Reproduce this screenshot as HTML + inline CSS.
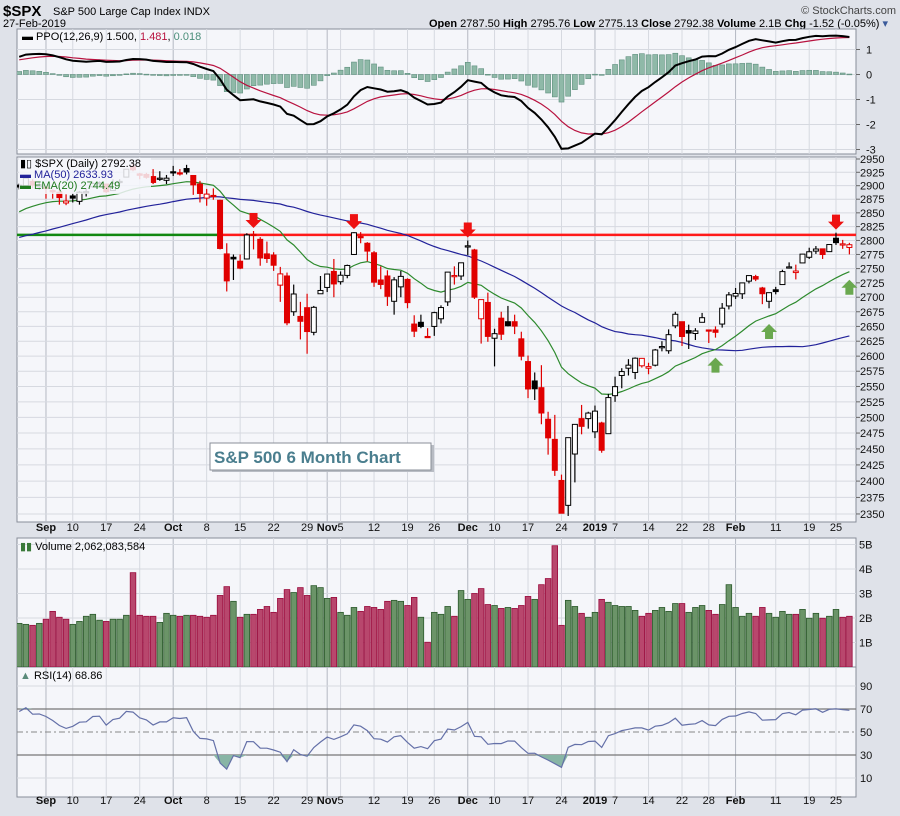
<!DOCTYPE html>
<html><head><meta charset="utf-8">
<style>
html,body{margin:0;padding:0;background:#dfe2e9;}
body{width:900px;height:811px;overflow:hidden;font-family:"Liberation Sans",sans-serif;}
svg text{font-family:"Liberation Sans",sans-serif;}
</style></head>
<body>
<svg id="chart" width="900" height="811" viewBox="0 0 900 811" xmlns="http://www.w3.org/2000/svg">
<rect x="0" y="0" width="900" height="811" fill="#dfe2e9"/>
<g>
<text x="3" y="16" font-size="15" font-weight="bold" fill="#000">$SPX</text>
<text x="53" y="15" font-size="11" fill="#000">S&amp;P 500 Large Cap Index  INDX</text>
<text x="896" y="14" font-size="11" text-anchor="end" fill="#444">© StockCharts.com</text>
<text x="3" y="27" font-size="11" fill="#000">27-Feb-2019</text>
<text x="888" y="27" font-size="11" text-anchor="end" fill="#000"><tspan font-weight="bold">Open</tspan> 2787.50 <tspan font-weight="bold">High</tspan> 2795.76 <tspan font-weight="bold">Low</tspan> 2775.13 <tspan font-weight="bold">Close</tspan> 2792.38 <tspan font-weight="bold">Volume</tspan> 2.1B <tspan font-weight="bold">Chg</tspan> -1.52 (-0.05%) <tspan fill="#3a5a9a">▾</tspan></text>
</g>
<g id="layer"></g>
</svg>
<script>
// ---------- data ----------
const preCloses=[2773,2762,2767,2749,2755,2718,2723,2699,2716,2718,2727,2713,2736,2760,2784,2793,2774,2798,2801,2798,2809,2816,2804,2802,2807,2820,2846,2837,2819,2803,2816,2813,2828,2840,2850,2858,2857,2853,2834,2821,2839,2819,2840,2850,2857,2863,2861,2856,2875,2896];
const dates=["Aug28","Aug29","Aug30","Aug31","Sep4","Sep5","Sep6","Sep7","Sep10","Sep11","Sep12","Sep13","Sep14","Sep17","Sep18","Sep19","Sep20","Sep21","Sep24","Sep25","Sep26","Sep27","Sep28","Oct1","Oct2","Oct3","Oct4","Oct5","Oct8","Oct9","Oct10","Oct11","Oct12","Oct15","Oct16","Oct17","Oct18","Oct19","Oct22","Oct23","Oct24","Oct25","Oct26","Oct29","Oct30","Oct31","Nov1","Nov2","Nov5","Nov6","Nov7","Nov8","Nov9","Nov12","Nov13","Nov14","Nov15","Nov16","Nov19","Nov20","Nov21","Nov23","Nov26","Nov27","Nov28","Nov29","Nov30","Dec3","Dec4","Dec6","Dec7","Dec10","Dec11","Dec12","Dec13","Dec14","Dec17","Dec18","Dec19","Dec20","Dec21","Dec24","Dec26","Dec27","Dec28","Dec31","Jan2","Jan3","Jan4","Jan7","Jan8","Jan9","Jan10","Jan11","Jan14","Jan15","Jan16","Jan17","Jan18","Jan22","Jan23","Jan24","Jan25","Jan28","Jan29","Jan30","Jan31","Feb1","Feb4","Feb5","Feb6","Feb7","Feb8","Feb11","Feb12","Feb13","Feb14","Feb15","Feb19","Feb20","Feb21","Feb22","Feb25","Feb26","Feb27"];
const opens=[2901,2900,2908,2898,2897,2891,2888,2868,2881,2871,2888,2898,2906,2903,2891,2906,2916,2936,2922,2921,2917,2912,2910,2926,2924,2932,2919,2903,2877,2882,2873,2776,2770,2763,2767,2811,2802,2776,2774,2721,2737,2675,2667,2682,2640,2706,2717,2745,2727,2738,2775,2807,2795,2778,2730,2737,2693,2718,2731,2654,2657,2633,2650,2663,2692,2736,2737,2790,2783,2663,2691,2630,2664,2658,2658,2629,2591,2559,2548,2497,2465,2401,2363,2442,2498,2498,2477,2491,2474,2535,2568,2580,2573,2584,2580,2585,2614,2609,2651,2658,2643,2638,2657,2644,2644,2654,2685,2702,2706,2728,2736,2716,2693,2713,2722,2751,2743,2760,2770,2781,2785,2780,2804,2792,2787.5];
const highs=[2904,2916,2912,2906,2900,2893,2893,2884,2886,2890,2895,2906,2908,2904,2912,2912,2931,2941,2924,2924,2931,2927,2920,2937,2931,2939,2919,2909,2894,2895,2874,2795,2775,2775,2813,2817,2806,2798,2779,2753,2743,2722,2692,2706,2685,2737,2741,2767,2745,2757,2815,2815,2797,2781,2754,2747,2735,2746,2733,2669,2670,2647,2675,2686,2744,2754,2760,2800,2785,2696,2708,2646,2675,2685,2670,2641,2601,2573,2585,2509,2504,2410,2468,2489,2520,2509,2519,2493,2538,2566,2580,2595,2598,2597,2589,2612,2625,2645,2675,2658,2653,2647,2673,2644,2650,2690,2709,2716,2725,2738,2739,2718,2708,2718,2748,2761,2757,2776,2787,2790,2785,2793,2814,2801,2795.76];
const lows=[2893,2898,2895,2892,2876,2876,2865,2864,2869,2865,2880,2896,2899,2886,2891,2903,2916,2927,2912,2913,2903,2909,2903,2918,2919,2921,2883,2869,2863,2874,2784,2710,2730,2749,2766,2784,2755,2760,2746,2692,2652,2668,2628,2604,2635,2706,2709,2700,2722,2733,2774,2795,2763,2718,2714,2685,2670,2700,2681,2632,2647,2631,2634,2655,2685,2722,2730,2774,2697,2621,2624,2583,2627,2650,2637,2593,2531,2528,2489,2441,2408,2351,2347,2398,2473,2482,2467,2444,2474,2525,2547,2568,2562,2581,2570,2583,2608,2604,2647,2617,2612,2627,2657,2622,2631,2648,2679,2697,2697,2724,2728,2688,2681,2705,2722,2750,2731,2760,2767,2776,2767,2781,2792,2785,2775.13];
const closes=[2897.5,2914,2901,2901.5,2896.7,2888.6,2878,2871.7,2877,2887.9,2888.9,2904,2905,2888.8,2904.3,2908,2930.8,2929.7,2919.4,2915.6,2906,2914,2914,2924.6,2923.4,2925.5,2901.6,2885.6,2884.4,2880.3,2785.7,2728.4,2767.1,2750.8,2809.9,2809.2,2768.8,2767.8,2755.9,2740.7,2656.1,2705.6,2658.7,2641.3,2682.6,2711.7,2740.4,2723.1,2738.3,2755.5,2813.9,2806.8,2781,2726.2,2722.2,2701.6,2730.2,2736.3,2690.7,2641.9,2649.9,2632.6,2673.5,2682.2,2743.8,2737.8,2760.2,2790.4,2700.1,2695.9,2633.1,2637.7,2636.8,2651.1,2650.5,2599.9,2545.9,2546.2,2507,2467.4,2416.6,2351.1,2467.7,2488.8,2485.7,2506.9,2510,2447.9,2531.9,2549.7,2574.4,2585,2596.6,2596.3,2582.6,2610.3,2616.1,2636,2670.7,2632.9,2638.7,2642.3,2664.8,2643.9,2640,2681.1,2704.1,2706.5,2724.9,2737.7,2731.6,2706.1,2707.9,2709.8,2744.7,2753,2745.7,2775.6,2779.8,2784.7,2774.9,2792.7,2796.1,2793.9,2792.38];
const volumes=[1.78,1.74,1.70,1.78,1.95,2.27,2.03,1.95,1.74,1.86,2.07,2.15,1.91,1.86,1.95,1.95,2.11,3.85,2.11,2.07,2.07,1.82,2.19,2.11,2.07,2.11,2.11,2.07,2.03,2.11,2.92,3.28,2.68,2.03,2.15,2.15,2.35,2.47,2.23,2.80,3.16,3.04,3.24,2.92,3.32,3.24,2.80,2.84,2.23,2.11,2.43,2.27,2.47,2.43,2.35,2.68,2.72,2.68,2.51,2.84,2.03,1.01,2.23,2.15,2.47,2.07,3.12,2.76,3.00,3.20,2.55,2.51,2.39,2.43,2.39,2.51,2.88,2.76,3.36,3.61,4.95,1.70,2.72,2.47,2.19,2.03,2.23,2.76,2.64,2.51,2.47,2.47,2.31,2.07,2.19,2.31,2.43,2.27,2.59,2.59,2.23,2.43,2.51,2.31,2.15,2.55,3.36,2.43,2.07,2.19,2.07,2.43,2.19,2.03,2.27,2.15,2.15,2.35,1.99,2.19,1.99,2.07,2.35,2.03,2.07];
const tickDates=["Sep4","Sep10","Sep17","Sep24","Oct1","Oct8","Oct15","Oct22","Oct29","Nov1","Nov5","Nov12","Nov19","Nov26","Dec3","Dec10","Dec17","Dec24","Jan2","Jan7","Jan14","Jan22","Jan28","Feb1","Feb11","Feb19","Feb25"];
const tickLabels=["Sep","10","17","24","Oct","8","15","22","29","Nov","5","12","19","26","Dec","10","17","24","2019","7","14","22","28","Feb","11","19","25"];
const tickMajor=[1,0,0,0,1,0,0,0,0,1,0,0,0,0,1,0,0,0,1,0,0,0,0,1,0,0,0];
const priceTicks=[2950,2925,2900,2875,2850,2825,2800,2775,2750,2725,2700,2675,2650,2625,2600,2575,2550,2525,2500,2475,2450,2425,2400,2375,2350];
const resistance=2810;
const downArrowDates=["Oct17","Nov7","Dec3","Feb25"];
const upArrowDates=["Jan29","Feb8","Feb27"];
const ppoTicks=[1,0,-1,-2,-3];
const volTicks=[5,4,3,2,1];
const rsiTicks=[90,70,50,30,10];

// ---------- geometry ----------
const L=17,R=856;
const X0=19.2,DX=6.695;
const xAt=i=>X0+i*DX;
const idxOf=d=>dates.indexOf(d);
const yPrice=p=>159+Math.log(2950/p)*1561;
const yPPO=v=>74.5-v*25;
const yVol=v=>667-v*24.5;
const yRSI=v=>789.5-v*1.15;
const NS="http://www.w3.org/2000/svg";
const layer=document.getElementById('layer');
function mk(tag,attrs,parent){const e=document.createElementNS(NS,tag);for(const k in attrs)e.setAttribute(k,attrs[k]);(parent||layer).appendChild(e);return e;}

// ---------- indicators ----------
const all=preCloses.concat(closes);const P=preCloses.length;
function ema(arr,n){const k=2/(n+1);const out=[];let e=arr[0];for(let i=0;i<arr.length;i++){e=i===0?arr[0]:arr[i]*k+e*(1-k);out.push(e);}return out;}
const ema12=ema(all,12),ema26=ema(all,26),ema20=ema(all,20);
const ppoAll=all.map((c,i)=>(ema12[i]-ema26[i])/ema26[i]*100);
const sigAll=ema(ppoAll,9);
const ma50=closes.map((c,i)=>{let s=0;for(let j=P+i-49;j<=P+i;j++)s+=all[j];return s/50;});
// RSI wilder
const rsiAll=[];{let ag=0,al=0;for(let i=1;i<all.length;i++){const d=all[i]-all[i-1];const g=Math.max(d,0),l=Math.max(-d,0);if(i<=14){ag+=g/14;al+=l/14;}else{ag=(ag*13+g)/14;al=(al*13+l)/14;}rsiAll[i]=al===0?100:100-100/(1+ag/al);}}

// ---------- panels ----------
const panels=[["ppo-panel",29,154],["price-panel",157,522],["volume-panel",538,667],["rsi-panel",667,797]];
panels.forEach(p=>{const r=mk('rect',{x:L,y:p[1],width:R-L,height:p[2]-p[1],fill:'#f5f6fa',stroke:'#888d99','stroke-width':1});

});
function clip(id,y1,y2){const c=mk('clipPath',{id:id});mk('rect',{x:L,y:y1,width:R-L,height:y2-y1},c);}
clip('cp-ppo',29,154);clip('cp-price',157,522);clip('cp-vol',538,667);clip('cp-rsi',667,797);

// vertical grid
panels.forEach(p=>{tickDates.forEach((d,k)=>{const x=xAt(idxOf(d));const ln=mk('line',{x1:x,x2:x,y1:p[1],y2:p[2],stroke:tickMajor[k]?'#b4b8c2':'#d6d9e0','stroke-width':1});

});});

// date axes
[531,804].forEach((yy,ai)=>{tickDates.forEach((d,k)=>{const t=mk('text',{x:xAt(idxOf(d)),y:yy,'font-size':11,'text-anchor':'middle','font-weight':tickMajor[k]?'bold':'normal',fill:'#111'});t.textContent=tickLabels[k];

});});

// ---------- PPO ----------
ppoTicks.forEach(v=>{const y=yPPO(v);const g=mk('line',{x1:L,x2:R,y1:y,y2:y,stroke:'#d6d9e0'});


const t=mk('text',{x:866,y:y+4,'font-size':11,fill:'#111'});t.textContent=v;


mk('line',{x1:R,x2:R+4,y1:y,y2:y,stroke:'#666'});});
const gP=mk('g',{'clip-path':'url(#cp-ppo)'});
closes.forEach((c,i)=>{const h=ppoAll[P+i]-sigAll[P+i];const y0=yPPO(0),y1=yPPO(h);const b=mk('rect',{x:xAt(i)-2.5,y:Math.min(y0,y1),width:5,height:Math.max(0.8,Math.abs(y1-y0)),fill:'#8fb9a8',stroke:'#5f8f7e','stroke-width':0.6},gP);

});
function path(vals,yf,attrs,g,name){let d='';vals.forEach((v,i)=>{d+=(i?'L':'M')+xAt(i).toFixed(1)+','+yf(v).toFixed(1);});const e=mk('path',Object.assign({d:d,fill:'none'},attrs),g);

return e;}
path(sigAll.slice(P),yPPO,{stroke:'#b8123f','stroke-width':1.2},gP,'ppo-signal-line');
path(ppoAll.slice(P),yPPO,{stroke:'#000','stroke-width':2},gP,'ppo-line');
{const t=mk('text',{x:22,y:40,'font-size':11,fill:'#000'});t.innerHTML='<tspan font-weight="bold">▬</tspan> PPO(12,26,9) 1.500, <tspan fill="#b8123f">1.481</tspan>, <tspan fill="#4a8e7a">0.018</tspan>';

}

// ---------- Price ----------
priceTicks.forEach(v=>{const y=yPrice(v);const g=mk('line',{x1:L,x2:R,y1:y,y2:y,stroke:'#d6d9e0'});


mk('line',{x1:R,x2:R+4,y1:y,y2:y,stroke:'#666'});
const t=mk('text',{x:860,y:y+4,'font-size':11,fill:'#111'});t.textContent=v;

});
const gC=mk('g',{'clip-path':'url(#cp-price)'});
{const yr=yPrice(resistance);const xi=xAt(idxOf("Oct10"));
const g1=mk('line',{x1:L,x2:xi,y1:yr,y2:yr,stroke:'#118811','stroke-width':2.5},gC);


const r1=mk('line',{x1:xi,x2:R,y1:yr,y2:yr,stroke:'#ff1a1a','stroke-width':2.5},gC);

}
path(ma50,yPrice,{stroke:'#22229a','stroke-width':1.2},gC,'ma50-line');
path(ema20.slice(P),yPrice,{stroke:'#2d8a2d','stroke-width':1.2},gC,'ema20-line');
closes.forEach((c,i)=>{const o=opens[i],hi=highs[i],lo=lows[i];const prev=i?closes[i-1]:preCloses[P-1];const col=c<prev?'#e00000':'#000';const x=xAt(i);
const w=mk('line',{x1:x,x2:x,y1:yPrice(hi),y2:yPrice(lo),stroke:col,'stroke-width':1.2},gC);


const yt=yPrice(Math.max(o,c)),yb=yPrice(Math.min(o,c));
const b=mk('rect',{x:x-2.5,y:yt,width:5,height:Math.max(1.2,yb-yt),fill:c>=o?'#fff':col,stroke:col,'stroke-width':1},gC);

});
downArrowDates.forEach(d=>{const i=idxOf(d);const x=xAt(i);const y=yPrice(highs[i])-3;const a=mk('path',{d:`M${x-4},${y-15}h8v7h4l-8,8l-8,-8h4z`,fill:'#ee1111'});

});
upArrowDates.forEach(d=>{const i=idxOf(d);const x=xAt(i);const y=yPrice(ema20[P+i])+8;const a=mk('path',{d:`M${x},${y}l8,8h-4v7h-8v-7h-4z`,fill:'#6aa84f'});

});
{const bg=mk('rect',{x:19,y:158,width:132,height:36,fill:'#f5f6fa','fill-opacity':0.85});


const t1=mk('text',{x:20,y:167,'font-size':11,fill:'#000'});t1.textContent='▮▯ $SPX (Daily) 2792.38';


const t2=mk('text',{x:20,y:178,'font-size':11,fill:'#22229a'});t2.textContent='▬ MA(50) 2633.93';


const t3=mk('text',{x:20,y:189,'font-size':11,fill:'#1d7a1d'});t3.textContent='▬ EMA(20) 2744.49';

}
{mk('rect',{x:212,y:445,width:222,height:27,fill:'#b8bcc4'});
const box=mk('rect',{x:210,y:443,width:221,height:27,fill:'#fff',stroke:'#8a8f98','stroke-width':1});


const t=mk('text',{x:214,y:463,'font-size':17,'font-weight':'bold',fill:'#4a7e8e'});t.textContent='S&P 500 6 Month Chart';

}

// ---------- Volume ----------
volTicks.forEach(v=>{const y=yVol(v);const g=mk('line',{x1:L,x2:R,y1:y,y2:y,stroke:'#d6d9e0'});


const t=mk('text',{x:859,y:y+4,'font-size':11,fill:'#111'});t.textContent=v+'B';

});
const gV=mk('g',{'clip-path':'url(#cp-vol)'});
volumes.forEach((v,i)=>{const prev=i?closes[i-1]:preCloses[P-1];const up=closes[i]>=prev;const y=yVol(v);
const b=mk('rect',{x:xAt(i)-2.8,y:y,width:5.6,height:667-y,fill:up?'#6b9468':'#b8476d',stroke:up?'#2c5a2c':'#9a0a3c','stroke-width':0.8},gV);

});
{const t=mk('text',{x:20,y:550,'font-size':11,fill:'#000'});t.innerHTML='<tspan fill="#3a7a3a">▮▮</tspan> Volume 2,062,083,584';

}

// ---------- RSI ----------
rsiTicks.forEach(v=>{const y=yRSI(v);const strong=(v===70||v===30);const g=mk('line',{x1:L,x2:R,y1:y,y2:y,stroke:strong?'#777':(v===50?'#888':'#d6d9e0'),'stroke-width':strong?1.2:1,'stroke-dasharray':v===50?'6,3,2,3':'none'});


const t=mk('text',{x:860,y:y+4,'font-size':11,fill:'#111'});t.textContent=v;

});
const gR=mk('g',{'clip-path':'url(#cp-rsi)'});
const rsi=rsiAll.slice(P);
{let d='M'+xAt(0)+','+yRSI(30);rsi.forEach((v,i)=>{d+='L'+xAt(i).toFixed(1)+','+yRSI(Math.min(v,30)).toFixed(1);});d+='L'+xAt(rsi.length-1)+','+yRSI(30)+'Z';
const f=mk('path',{d:d,fill:'#88b5a5',stroke:'none'},gR);


let d2='M'+xAt(0)+','+yRSI(70);rsi.forEach((v,i)=>{d2+='L'+xAt(i).toFixed(1)+','+yRSI(Math.max(v,70)).toFixed(1);});d2+='L'+xAt(rsi.length-1)+','+yRSI(70)+'Z';
const f2=mk('path',{d:d2,fill:'#88b5a5',stroke:'none'},gR);

}
path(rsi,yRSI,{stroke:'#6470a8','stroke-width':1.2},gR,'rsi-line');
{const t=mk('text',{x:20,y:679,'font-size':11,fill:'#000'});t.innerHTML='<tspan fill="#5a8a7a">▲</tspan> RSI(14) 68.86';

}
</script>
</body></html>
